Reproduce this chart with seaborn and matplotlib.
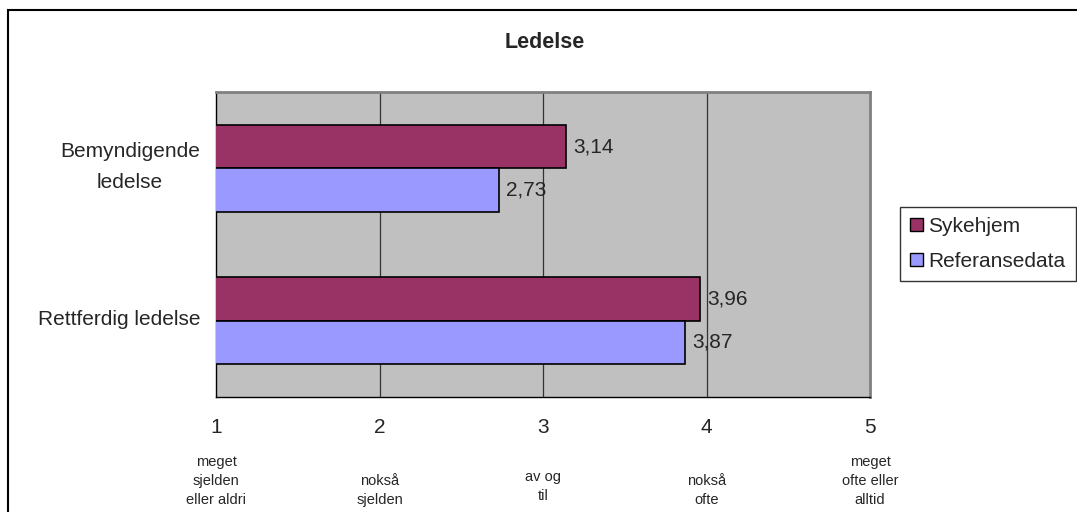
import matplotlib
matplotlib.use("Agg")
import matplotlib.pyplot as plt
import seaborn as sns
import pandas as pd
from matplotlib.patches import Rectangle, Patch
from matplotlib.transforms import blended_transform_factory

# Data
categories = ["Bemyndigende\nledelse", "Rettferdig ledelse"]
series = ["Sykehjem", "Referansedata"]
sykehjem = [3.14, 3.96]
referansedata = [2.73, 3.87]
scale_ticks = [1, 2, 3, 4, 5]
scale_labels = ["meget\nsjelden\neller aldri", "nokså\nsjelden", "av og\ntil", "nokså\nofte",
                "meget\nofte eller\nalltid"]
colors = ["#993366", "#9999FF"]

df = pd.DataFrame({
    "kategori": categories * 2,
    "serie": [series[0]] * 2 + [series[1]] * 2,
    "verdi": sykehjem + referansedata,
})

sns.set_style("white")
plt.rcParams["font.family"] = ["Liberation Sans", "DejaVu Sans"]

fig = plt.figure(figsize=(10.77, 5.12), dpi=100)
ax = fig.add_axes([216 / 1077, 1 - 397 / 512, (870 - 216) / 1077, (397 - 92) / 512])
ax.set_facecolor("#C0C0C0")

sns.barplot(data=df, y="kategori", x="verdi", hue="serie", orient="h",
            palette=colors, width=0.57, edgecolor="black", linewidth=1.2,
            saturation=1, ax=ax, legend=False, zorder=3)

ax.set_xlim(1, 5)
ax.set_ylim(1.5, -0.5)
ax.set_xlabel("")
ax.set_ylabel("")

# Vertical gridlines
for x in scale_ticks[1:-1]:
    ax.axvline(x, color="#333333", linewidth=0.9, zorder=1)

# Value labels
for cont in ax.containers:
    vals = cont.datavalues
    ax.bar_label(cont, labels=[f"{v:.2f}".replace(".", ",") for v in vals],
                 padding=5, fontsize=15, zorder=4)

# Axes / spines
for s in ["top", "right"]:
    ax.spines[s].set_color("#808080")
    ax.spines[s].set_linewidth(2)
for s in ["left", "bottom"]:
    ax.spines[s].set_color("black")
    ax.spines[s].set_linewidth(1)

ax.set_xticks(scale_ticks)
ax.set_xticklabels([str(t) for t in scale_ticks], fontsize=15)
ax.set_yticks([-0.5, 0.5, 1.5], minor=True)
ax.set_yticks([0, 1])
ax.set_yticklabels([])
ax.tick_params(axis="y", which="major", length=0)
ax.tick_params(axis="y", which="minor", length=6, color="black", width=1)
ax.tick_params(axis="x", which="major", length=6, color="black", width=1, direction="out", pad=9)

# Category names left of the axis
ytrans = blended_transform_factory(ax.transAxes, ax.transData)
for i, cat in enumerate(categories):
    ax.text(-16 / 654, i - 0.01, cat, transform=ytrans, ha="right", va="center",
            multialignment="center", fontsize=15, linespacing=1.8)

# Scale descriptions below the numeric ticks
trans = blended_transform_factory(ax.transData, fig.transFigure)
for x, lab in zip(scale_ticks, scale_labels):
    y = 1 - 507 / 512 if x != 3 else 1 - 503 / 512
    ax.text(x, y, lab, transform=trans, ha="center", va="bottom", fontsize=10.5,
            linespacing=1.45)

# Title
fig.text(545 / 1077, 1 - 42 / 512, "Ledelse", ha="center", va="center",
         fontsize=15.5, fontweight="bold")

# Legend
handles = [Patch(facecolor=c, edgecolor="black", linewidth=1) for c in colors]
leg = fig.legend(handles, series, loc="center left",
                 bbox_to_anchor=(900 / 1077, 1 - 244 / 512), fontsize=15,
                 frameon=True, fancybox=False, edgecolor="black", handlelength=0.6,
                 handleheight=0.6, handletextpad=0.25, borderpad=0.5, labelspacing=0.75,
                 borderaxespad=0)
leg.get_frame().set_linewidth(1)

# Outer chart border
fig.patches.append(Rectangle((8 / 1077, -0.1), 1.2, 1 - 10 / 512 + 0.1,
                             transform=fig.transFigure, fill=False,
                             edgecolor="black", linewidth=1.5))

fig.savefig("out.png", dpi=100)
